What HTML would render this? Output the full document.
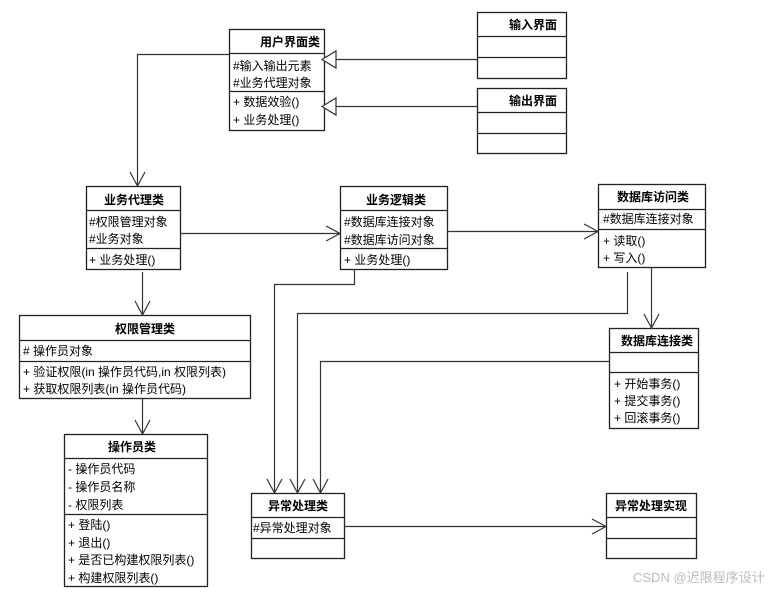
<!DOCTYPE html>
<html><head><meta charset="utf-8"><style>
body{margin:0;background:#fff;}
svg text{font-family:"Liberation Sans","Noto Sans CJK SC",sans-serif;font-size:12px;fill:#000;}
.b{font-weight:bold;}
</style></head><body>
<svg width="782" height="592" viewBox="0 0 782 592" xmlns="http://www.w3.org/2000/svg">
<g fill="none" stroke="#222" stroke-width="1.3">
<!-- 用户界面类 -->
<rect x="229.5" y="29.5" width="95" height="101"/>
<line x1="229" y1="53.5" x2="325" y2="53.5"/><line x1="229" y1="91.5" x2="325" y2="91.5"/>
<!-- 输入界面 -->
<rect x="477.5" y="12.5" width="89" height="66"/>
<line x1="477" y1="36.5" x2="567" y2="36.5"/><line x1="477" y1="57.5" x2="567" y2="57.5"/>
<!-- 输出界面 -->
<rect x="477.5" y="88.5" width="89" height="65"/>
<line x1="477" y1="112.5" x2="567" y2="112.5"/><line x1="477" y1="133.5" x2="567" y2="133.5"/>
<!-- 业务代理类 -->
<rect x="86.5" y="186.5" width="94" height="83"/>
<line x1="86" y1="210.5" x2="181" y2="210.5"/><line x1="86" y1="248.5" x2="181" y2="248.5"/>
<!-- 业务逻辑类 -->
<rect x="340.5" y="186.5" width="107" height="83"/>
<line x1="340" y1="210.5" x2="448" y2="210.5"/><line x1="340" y1="248.5" x2="448" y2="248.5"/>
<!-- 数据库访问类 -->
<rect x="598.5" y="184.5" width="107" height="83"/>
<line x1="598" y1="209.5" x2="706" y2="209.5"/><line x1="598" y1="229.5" x2="706" y2="229.5"/>
<!-- 权限管理类 -->
<rect x="19.5" y="315.5" width="231" height="83"/>
<line x1="19" y1="340.5" x2="251" y2="340.5"/><line x1="19" y1="361.5" x2="251" y2="361.5"/>
<!-- 操作员类 -->
<rect x="64.5" y="434.5" width="143" height="152"/>
<line x1="64" y1="458.5" x2="208" y2="458.5"/><line x1="64" y1="514.5" x2="208" y2="514.5"/>
<!-- 数据库连接类 -->
<rect x="609.5" y="328.5" width="89" height="100"/>
<line x1="609" y1="352.5" x2="699" y2="352.5"/><line x1="609" y1="372.5" x2="699" y2="372.5"/>
<!-- 异常处理类 -->
<rect x="251.5" y="493.5" width="93" height="65"/>
<line x1="251" y1="517.5" x2="345" y2="517.5"/><line x1="251" y1="538.5" x2="345" y2="538.5"/>
<!-- 异常处理实现 -->
<rect x="606.5" y="493.5" width="90" height="65"/>
<line x1="606" y1="517.5" x2="697" y2="517.5"/><line x1="606" y1="538.5" x2="697" y2="538.5"/>
</g>
<g fill="none" stroke="#333" stroke-width="1.2">
<!-- generalization -->
<line x1="336" y1="59.5" x2="477" y2="59.5"/><polygon points="322,59.5 336,51 336,68" fill="#fff"/>
<line x1="336" y1="106.5" x2="477" y2="106.5"/><polygon points="322,106.5 336,98 336,115" fill="#fff"/>
<!-- associations -->
<polyline points="229,54.5 137.5,54.5 137.5,186"/><polyline points="130,172 137.5,186 145,172"/>
<line x1="180" y1="233.5" x2="340" y2="233.5"/><polyline points="326,226 340,233.5 326,241"/>
<line x1="447" y1="231.5" x2="598" y2="231.5"/><polyline points="584,224 598,231.5 584,239"/>
<line x1="142.5" y1="272" x2="142.5" y2="315"/><polyline points="135,301 142.5,315 150,301"/>
<line x1="142.5" y1="398" x2="142.5" y2="434"/><polyline points="135,420 142.5,434 150,420"/>
<line x1="651.5" y1="267" x2="651.5" y2="328"/><polyline points="644,314 651.5,328 659,314"/>
<polyline points="354.5,269 354.5,284.5 274.5,284.5 274.5,493"/><polyline points="267,479 274.5,493 282,479"/>
<polyline points="627.5,272 627.5,313.5 297.5,313.5 297.5,493"/><polyline points="290,479 297.5,493 305,479"/>
<polyline points="609,361.5 320.5,361.5 320.5,493"/><polyline points="313,479 320.5,493 328,479"/>
<line x1="344" y1="526.5" x2="606" y2="526.5"/><polyline points="592,519 606,526.5 592,534"/>
</g>
<text x="320" y="46" class="b" text-anchor="end">用户界面类</text>
<text x="233" y="70">#输入输出元素</text>
<text x="233" y="87">#业务代理对象</text>
<text x="233" y="106">+ 数据效验()</text>
<text x="233" y="124">+ 业务处理()</text>
<text x="557" y="29" class="b" text-anchor="end">输入界面</text>
<text x="557" y="105" class="b" text-anchor="end">输出界面</text>
<text x="134" y="204" class="b" text-anchor="middle">业务代理类</text>
<text x="89" y="226">#权限管理对象</text>
<text x="89" y="243">#业务对象</text>
<text x="89" y="264">+ 业务处理()</text>
<text x="396" y="204" class="b" text-anchor="middle">业务逻辑类</text>
<text x="344" y="226">#数据库连接对象</text>
<text x="344" y="244">#数据库访问对象</text>
<text x="344" y="264">+ 业务处理()</text>
<text x="653" y="201" class="b" text-anchor="middle">数据库访问类</text>
<text x="603" y="223">#数据库连接对象</text>
<text x="603" y="245">+ 读取()</text>
<text x="603" y="262">+ 写入()</text>
<text x="145" y="333" class="b" text-anchor="middle">权限管理类</text>
<text x="23" y="355"># 操作员对象</text>
<text x="23" y="376">+ 验证权限(in 操作员代码,in 权限列表)</text>
<text x="23" y="393">+ 获取权限列表(in 操作员代码)</text>
<text x="132" y="451" class="b" text-anchor="middle">操作员类</text>
<text x="68" y="473">- 操作员代码</text>
<text x="68" y="491">- 操作员名称</text>
<text x="68" y="509">- 权限列表</text>
<text x="68" y="529">+ 登陆()</text>
<text x="68" y="547">+ 退出()</text>
<text x="68" y="564">+ 是否已构建权限列表()</text>
<text x="68" y="582">+ 构建权限列表()</text>
<text x="657" y="345" class="b" text-anchor="middle">数据库连接类</text>
<text x="614" y="388">+ 开始事务()</text>
<text x="614" y="405">+ 提交事务()</text>
<text x="614" y="422">+ 回滚事务()</text>
<text x="298" y="510" class="b" text-anchor="middle">异常处理类</text>
<text x="253" y="532">#异常处理对象</text>
<text x="651" y="510" class="b" text-anchor="middle">异常处理实现</text>
<text x="633" y="582" style="fill:#bbb;font-size:13px">CSDN @迟限程序设计</text>
</svg>
</body></html>
